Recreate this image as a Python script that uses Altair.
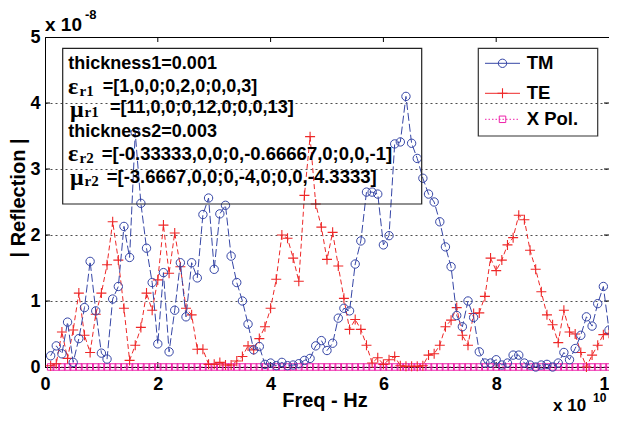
import altair as alt
import pandas as pd

# ---------------- data ----------------
freq = [round(0.1 * i, 1) for i in range(1, 101)]   # x 1e10 Hz

tm = [0.17, 0.32, 0.20, 0.68, 0.07, 0.43, 0.90, 1.60, 0.85, 0.21,
      0.12, 1.03, 1.22, 2.13, 1.66, 3.55, 2.48, 1.80, 1.28, 0.35,
      1.43, 0.23, 0.86, 1.58, 0.76, 1.58, 1.35, 2.31, 2.56, 1.48,
      2.32, 2.45, 1.68, 1.28, 1.00, 0.65, 0.26, 0.31, 0.04, 0.06,
      0.02, 0.07, 0.02, 0.03, 0.05, 0.10, 0.13, 0.32, 0.40, 0.25,
      0.36, 0.74, 0.89, 0.85, 1.56, 1.91, 2.65, 2.65, 2.62, 1.85,
      1.99, 3.38, 3.41, 4.10, 3.39, 3.16, 2.86, 2.62, 2.50, 2.20,
      1.82, 1.52, 0.78, 0.61, 1.00, 0.75, 0.23, 0.06, 0.06, 0.11,
      0.03, 0.06, 0.18, 0.18, 0.06, 0.03, 0.00, 0.03, 0.04, 0.00,
      0.06, 0.22, 0.11, 0.28, 0.48, 0.76, 0.62, 0.96, 1.22, 0.56]

te = [0.02, 0.05, 0.53, 0.13, 0.56, 1.12, 0.48, 0.22, 0.80, 1.12,
      1.55, 2.20, 1.62, 0.89, 0.10, 0.33, 0.60, 1.12, 0.86, 1.32,
      2.15, 1.42, 2.03, 1.52, 0.89, 0.79, 0.27, 0.27, 0.04, 0.04,
      0.07, 0.03, 0.03, 0.09, 0.16, 0.32, 0.26, 0.43, 0.61, 0.89,
      1.33, 2.00, 1.95, 1.65, 1.30, 2.60, 3.49, 2.47, 2.12, 1.63,
      2.04, 1.53, 1.04, 0.57, 0.72, 0.57, 0.33, 0.06, 0.14, 0.04,
      0.11, 0.16, 0.02, 0.01, 0.01, 0.01, 0.02, 0.18, 0.20, 0.33,
      0.61, 0.71, 0.90, 0.48, 0.33, 0.81, 0.82, 1.07, 1.65, 1.46,
      1.62, 1.85, 1.96, 2.30, 2.23, 1.77, 1.48, 1.14, 0.79, 0.64,
      0.37, 0.86, 0.53, 0.50, 0.22, 0.00, 0.18, 0.33, 0.49, 0.51]

xpol = [0, 0, 0, 0, 0, 0, 0, 0, 0, 0, 0, 0, 0, 0, 0, 0, 0, 0, 0, 0,
        0, 0, 0, 0, 0, 0, 0, 0, 0, 0, 0, 0, 0, 0, 0, 0, 0, 0, 0, 0,
        0, 0, 0, 0, 0, 0, 0, 0, 0, 0, 0, 0, 0, 0, 0, 0, 0, 0, 0, 0,
        0, 0, 0, 0, 0, 0, 0, 0, 0, 0, 0, 0, 0, 0, 0, 0, 0, 0, 0, 0,
        0, 0, 0, 0, 0, 0, 0, 0, 0, 0, 0, 0, 0, 0, 0, 0, 0, 0, 0, 0]

x_ticks = [0, 2, 4, 6, 8, 10]
y_ticks = [0, 1, 2, 3, 4, 5]
inner_x_ticks = [2, 4, 6, 8]
inner_y_ticks = [1, 2, 3, 4]
series_names = ["TM", "TE", "X Pol."]

# ---------------- style ----------------
W, H = 564, 330
FONT = "Liberation Sans"
SERIF = "Liberation Serif"
BLUE = "#3646a6"
RED = "#ee2828"
MAG = "#ee22aa"
PLUS = "M-1,0L1,0M0,-1L0,1"

df = pd.DataFrame({"freq": freq, "tm": tm, "te": te, "xpol": xpol})
xt_df = pd.DataFrame({"v": inner_x_ticks})
yt_df = pd.DataFrame({"v": inner_y_ticks})
one = pd.DataFrame({"k": [0]})

xs = alt.Scale(domain=[0, 10], nice=False, zero=False)
ys = alt.Scale(domain=[0, 5], nice=False)
xax = alt.Axis(values=x_ticks, format="d", title=None, grid=False, ticks=False,
               domainColor="black", labelFont=FONT, labelFontSize=18,
               labelFontWeight="bold", labelColor="black", labelPadding=8,
               labelFlush=False, labelOverlap=False)
yax = alt.Axis(values=y_ticks, format="d", title=None, grid=True, gridColor="black",
               gridDash=[2, 3], gridWidth=0.7, gridOpacity=1, ticks=False,
               domainColor="black", labelFont=FONT, labelFontSize=18,
               labelFontWeight="bold", labelColor="black", labelPadding=5,
               labelFlush=False, labelOverlap=False)


def X(f):
    return alt.X(f, type="quantitative", scale=xs, axis=xax)


def Y(f):
    return alt.Y(f, type="quantitative", scale=ys, axis=yax)


layers = []

# inner ticks (Matlab style)
layers.append(alt.Chart(xt_df).mark_rule(color="black", strokeWidth=1).encode(
    x=X("v"), y=alt.value(H), y2=alt.value(H - 5)))
layers.append(alt.Chart(xt_df).mark_rule(color="black", strokeWidth=1).encode(
    x=X("v"), y=alt.value(0), y2=alt.value(5)))
layers.append(alt.Chart(yt_df).mark_rule(color="black", strokeWidth=1).encode(
    y=Y("v"), x=alt.value(0), x2=alt.value(5)))
layers.append(alt.Chart(yt_df).mark_rule(color="black", strokeWidth=1).encode(
    y=Y("v"), x=alt.value(W), x2=alt.value(W - 5)))

# series
layers.append(alt.Chart(df).mark_line(color=MAG, strokeWidth=1, strokeDash=[1.5, 2]).encode(
    x=X("freq"), y=Y("xpol")))
layers.append(alt.Chart(df).mark_point(shape="square", filled=False, size=42, color=MAG,
                                       strokeWidth=1, opacity=1).encode(x=X("freq"), y=Y("xpol")))
layers.append(alt.Chart(df).mark_line(color=RED, strokeWidth=1, strokeDash=[5, 3]).encode(
    x=X("freq"), y=Y("te")))
layers.append(alt.Chart(df).mark_point(shape=PLUS, filled=False, size=100, color=RED,
                                       strokeWidth=1.1, opacity=1).encode(x=X("freq"), y=Y("te")))
layers.append(alt.Chart(df).mark_line(color=BLUE, strokeWidth=1, strokeDash=[8, 3]).encode(
    x=X("freq"), y=Y("tm")))
layers.append(alt.Chart(df).mark_point(shape="circle", filled=False, size=70, color=BLUE,
                                       strokeWidth=1, opacity=1).encode(x=X("freq"), y=Y("tm")))


def txt(t, x, y, size=18, font=FONT, align="left", angle=0, weight="bold", baseline="middle"):
    kw = dict(text=t, font=font, fontSize=size, fontWeight=weight, align=align,
              baseline=baseline, color="black")
    if angle:
        kw["angle"] = angle
    return alt.Chart(one).mark_text(**kw).encode(x=alt.value(x), y=alt.value(y))


def box(x1, y1, x2, y2, stroke="#222222", sw=1.2):
    return alt.Chart(one).mark_rect(fillOpacity=0, stroke=stroke, strokeWidth=sw).encode(
        x=alt.value(x1), x2=alt.value(x2), y=alt.value(y1), y2=alt.value(y2))


# annotation box
layers.append(box(17.7, 11.3, 376.7, 167))
layers.append(txt("thickness1=0.001", 23.3, 27))
layers.append(txt("\u03b5", 23, 49.7, size=24, font=SERIF))
layers.append(txt("r1", 34.5, 53.5, size=15, font=SERIF))
layers.append(txt("=[1,0,0;0,2,0;0,0,3]", 57.7, 49.7))
layers.append(txt("\u03bc", 25, 72.5, size=24, font=SERIF))
layers.append(txt("r1", 39.5, 75, size=15, font=SERIF))
layers.append(txt("=[11,0,0;0,12,0;0,0,13]", 65, 71.3))
layers.append(txt("thickness2=0.003", 23.3, 94.7))
layers.append(txt("\u03b5", 23, 117.3, size=24, font=SERIF))
layers.append(txt("r2", 34.5, 121, size=15, font=SERIF))
layers.append(txt("=[-0.33333,0,0;0,-0.66667,0;0,0,-1]", 56.7, 117.3, size=18.5))
layers.append(txt("\u03bc", 25, 140.9, size=24, font=SERIF))
layers.append(txt("r2", 39.5, 143.5, size=15, font=SERIF))
layers.append(txt("=[-3.6667,0,0;0,-4,0;0,0,-4.3333]", 61.7, 139.7, size=18.5))

# legend
layers.append(box(433.3, 11.3, 552.7, 99, stroke="#333333", sw=1.2))
leg_y = [26.3, 56.3, 82.3]
layers.append(alt.Chart(one).mark_rule(color=BLUE, strokeWidth=1).encode(
    x=alt.value(440), x2=alt.value(475), y=alt.value(leg_y[0])))
layers.append(alt.Chart(one).mark_point(shape="circle", filled=False, size=70, color=BLUE,
                                        strokeWidth=1, opacity=1).encode(
    x=alt.value(457.5), y=alt.value(leg_y[0])))
layers.append(alt.Chart(one).mark_rule(color=RED, strokeWidth=1).encode(
    x=alt.value(440), x2=alt.value(475), y=alt.value(leg_y[1])))
layers.append(alt.Chart(one).mark_point(shape=PLUS, filled=False, size=100, color=RED,
                                        strokeWidth=1.1, opacity=1).encode(
    x=alt.value(457.5), y=alt.value(leg_y[1])))
layers.append(alt.Chart(one).mark_rule(color=MAG, strokeWidth=1, strokeDash=[1.5, 2]).encode(
    x=alt.value(440), x2=alt.value(475), y=alt.value(leg_y[2])))
layers.append(alt.Chart(one).mark_point(shape="square", filled=False, size=42, color=MAG,
                                        strokeWidth=1, opacity=1).encode(
    x=alt.value(457.5), y=alt.value(leg_y[2])))
for name, yy in zip(series_names, leg_y):
    layers.append(txt(name, 481.7, yy, size=18.5))

# axis titles and exponent labels
layers.append(txt("Freq - Hz", 280, 364, size=20, align="center"))
layers.append(txt("| Reflection |", -26, 161, size=20, align="center", angle=270))
layers.append(txt("x 10", 0, -12, size=19))
layers.append(txt("-8", 40, -22, size=13))
layers.append(txt("x 10", 508, 368.5, size=17))
layers.append(txt("10", 548, 361, size=12))

chart = alt.layer(*layers).properties(
    width=W, height=H,
    autosize="none",
    padding={"left": 37, "top": 29, "right": 0, "bottom": 45},
    background="white",
).configure_view(stroke="black", strokeWidth=1)

chart.save("out.html", embed_options={"renderer": "svg", "actions": False})
